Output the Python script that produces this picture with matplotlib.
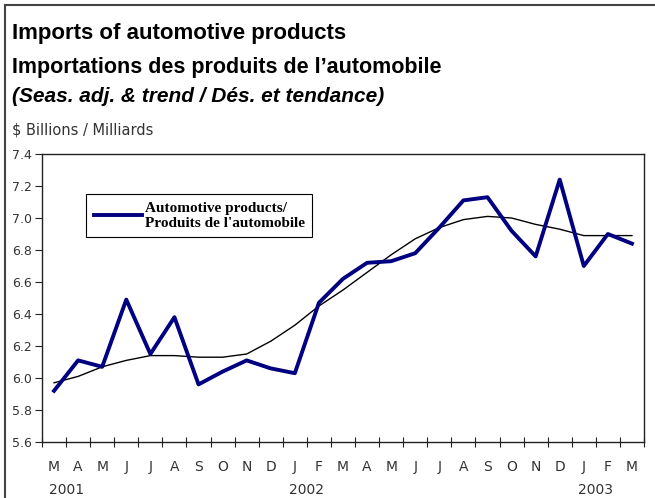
import matplotlib.pyplot as plt
from matplotlib.lines import Line2D
import numpy as np

months = ["M", "A", "M", "J", "J", "A", "S", "O", "N", "D", "J", "F",
          "M", "A", "M", "J", "J", "A", "S", "O", "N", "D", "J", "F", "M"]
years = ["2001", "2002", "2003"]
year_pos = [1, 11, 23]   # tick boundary each year label sits under

seas_adj = [5.92, 6.11, 6.07, 6.49, 6.15, 6.38, 5.96, 6.04, 6.11, 6.06, 6.03, 6.47,
            6.62, 6.72, 6.73, 6.78, 6.94, 7.11, 7.13, 6.92, 6.76, 7.24, 6.70, 6.90, 6.84]
trend = [5.97, 6.01, 6.07, 6.11, 6.14, 6.14, 6.13, 6.13, 6.15, 6.23, 6.33, 6.45,
         6.55, 6.66, 6.77, 6.87, 6.94, 6.99, 7.01, 7.00, 6.96, 6.93, 6.89, 6.89, 6.89]

W, H = 655, 498
fig = plt.figure(figsize=(W / 100, H / 100), dpi=100)
ax = fig.add_axes([42 / W, 1 - 442 / H, 602 / W, 288 / H])

x = np.arange(len(months))
ax.plot(x, trend, color="black", lw=1.0, zorder=2)
line, = ax.plot(x, seas_adj, color="#000080", lw=2.8, zorder=3)

ax.set_xlim(-0.5, len(months) - 0.5)
ax.set_ylim(5.6, 7.4)
ax.set_yticks(np.arange(5.6, 7.41, 0.2))
ax.set_yticklabels([f"{v:.1f}" for v in np.arange(5.6, 7.41, 0.2)])
ax.set_xticks(np.arange(-0.5, len(months), 1.0))
ax.set_xticklabels([])
ax.set_xticks(x, minor=True)
ax.set_xticklabels(months, minor=True)
ax.tick_params(axis="x", which="major", direction="inout", length=7, width=0.8, color="#222222")
ax.tick_params(axis="x", which="minor", length=0, pad=13, labelsize=10, labelcolor="#333333")
ax.tick_params(axis="y", direction="out", length=5, width=0.8, color="#222222",
               labelsize=9, labelcolor="#333333", pad=2)
for s in ax.spines.values():
    s.set_color("#222222")
    s.set_linewidth(1.0)

for yr, p in zip(years, year_pos):
    ax.text(p - 0.5, -0.165, yr, transform=ax.get_xaxis_transform(), ha="center",
            va="center", fontsize=10, color="#333333")

leg = ax.legend([line], ["Automotive products/\nProduits de l'automobile"],
                loc="upper left", bbox_to_anchor=(0.073, 0.861), borderaxespad=0,
                fancybox=False, edgecolor="black", framealpha=1, handlelength=3.2,
                handletextpad=0.15, borderpad=0.5, labelspacing=0.3,
                prop={"family": "Liberation Serif", "weight": "bold", "size": 11})
leg.get_frame().set_linewidth(0.8)

fig.text(12 / W, 1 - 33 / H, "Imports of automotive products", fontsize=16,
         fontweight="bold", family="Liberation Sans", va="center")
fig.text(12 / W, 1 - 67 / H, "Importations des produits de l\u2019automobile", fontsize=15.5,
         fontweight="bold", family="Liberation Sans", va="center")
fig.text(12 / W, 1 - 96 / H, "(Seas. adj. & trend / D\u00e9s. et tendance)", fontsize=15,
         fontweight="bold", style="italic", family="Liberation Sans", va="center")
fig.text(12 / W, 1 - 130 / H, "$ Billions / Milliards", fontsize=10.5, color="#333333",
         va="center")

# outer frame (left and top edges)
fig.add_artist(Line2D([5 / W, 5 / W], [0, 1 - 5 / H], color="#444444", lw=1.5))
fig.add_artist(Line2D([5 / W, 1], [1 - 5 / H, 1 - 5 / H], color="#444444", lw=1.5))

fig.savefig("out.png", dpi=100)
